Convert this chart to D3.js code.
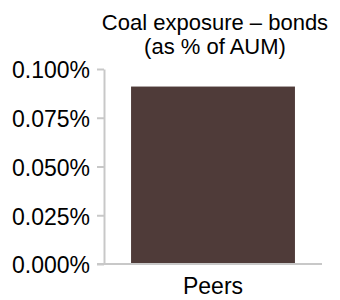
<!DOCTYPE html>
<html>
<head>
<meta charset="utf-8">
<script src="https://cdn.jsdelivr.net/npm/d3@7"></script>
<style>
  body { margin: 0; background: #fff; }
  svg text { font-family: "Liberation Sans", Arial, sans-serif; fill: #000; }
</style>
</head>
<body>
<svg id="chart"></svg>
<script>
const categories = ["Peers"];
const values = [0.091];
const yTicks = [0, 0.025, 0.05, 0.075, 0.1];
const titleLines = ["Coal exposure \u2013 bonds", "(as % of AUM)"];

const width = 340, height = 300;
const margin = { top: 69, right: 18, bottom: 36, left: 104 };
const innerW = width - margin.left - margin.right;
const innerH = height - margin.top - margin.bottom;
const fontSize = "23px";

const svg = d3.select("#chart").attr("width", width).attr("height", height);

svg.append("text")
  .attr("text-anchor", "middle")
  .attr("font-size", "22px")
  .selectAll("tspan")
  .data(titleLines)
  .enter()
  .append("tspan")
  .attr("x", 215)
  .attr("y", (d, i) => 30 + i * 24)
  .text(d => d);

const g = svg.append("g")
  .attr("transform", "translate(" + margin.left + "," + margin.top + ")");

const x = d3.scaleBand().domain(categories).range([0, innerW]).paddingInner(0).paddingOuter(0.165);
const y = d3.scaleLinear().domain([0, 0.1]).range([innerH, 0]);

g.selectAll("rect")
  .data(values)
  .enter()
  .append("rect")
  .attr("x", (d, i) => x(categories[i]))
  .attr("width", x.bandwidth())
  .attr("y", d => y(d))
  .attr("height", d => y(0) - y(d) - 1)
  .attr("fill", "#4f3b39");

const yAxis = g.append("g")
  .call(d3.axisLeft(y).tickValues(yTicks).tickFormat(d => d.toFixed(3) + "%").tickSize(7).tickSizeOuter(0));
yAxis.select(".domain").attr("stroke", "#c8c8c8").attr("stroke-width", 2);
yAxis.selectAll(".tick line").attr("stroke", "#c8c8c8").attr("stroke-width", 2);
yAxis.selectAll(".tick text").attr("font-size", fontSize).attr("x", -14).attr("dy", "0.38em").attr("fill", "#000");

const xAxis = g.append("g")
  .attr("transform", "translate(0," + innerH + ")")
  .call(d3.axisBottom(x).tickSize(0).tickSizeOuter(0));
xAxis.select(".domain").attr("stroke", "#c8c8c8").attr("stroke-width", 2).attr("d", "M-7,0H" + innerW);
xAxis.selectAll(".tick text").attr("font-size", fontSize).attr("y", 14).attr("dy", "0.71em").attr("fill", "#000");
</script>
</body>
</html>
